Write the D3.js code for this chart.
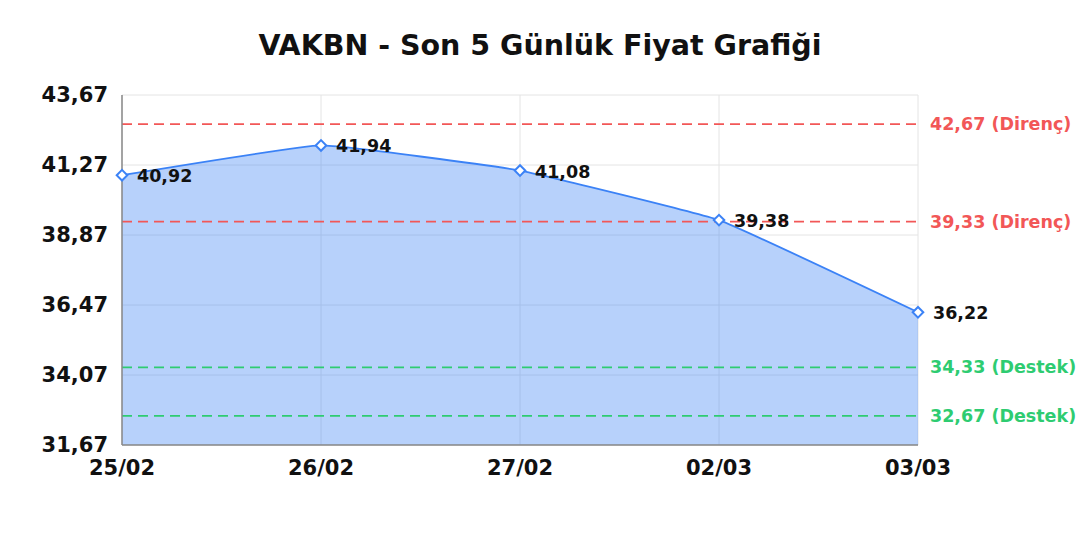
<!DOCTYPE html>
<html>
<head>
<meta charset="utf-8">
<script src="https://cdn.jsdelivr.net/npm/d3@7"></script>
<style>
  body { margin: 0; background: #fff; }
  svg text { font-family: "DejaVu Sans", sans-serif; font-weight: bold; }
</style>
</head>
<body>
<div id="chart"></div>
<script>
// VAKBN son 5 gün kapanış fiyatları
const days = ["25/02", "26/02", "27/02", "02/03", "03/03"];
const prices = [40.92, 41.94, 41.08, 39.38, 36.22];
const yTicks = [31.67, 34.07, 36.47, 38.87, 41.27, 43.67];

// destek / direnç seviyeleri
const levelValues = [42.67, 39.33, 34.33, 32.67];
const levelKinds = ["Direnç", "Direnç", "Destek", "Destek"];

const width = 1080;
const height = 540;
const margin = { top: 95, right: 162, bottom: 95, left: 122 };

const fmt = v => v.toFixed(2).replace('.', ',');
const levelColor = k => k === "Direnç" ? "#f25757" : "#2ecc71";

const svg = d3.select("#chart")
    .append("svg")
    .attr("width", width)
    .attr("height", height);

const x = d3.scalePoint()
    .domain(days)
    .range([margin.left, width - margin.right]);

const y = d3.scaleLinear()
    .domain([yTicks[0], yTicks[yTicks.length - 1]])
    .range([height - margin.bottom, margin.top]);

// Başlık
svg.append("text")
    .attr("x", width / 2)
    .attr("y", 45)
    .attr("text-anchor", "middle")
    .attr("dominant-baseline", "central")
    .attr("font-size", "28.5px")
    .attr("fill", "#111")
    .text("VAKBN - Son 5 Günlük Fiyat Grafiği");

// Izgara
svg.append("g")
    .selectAll("line.h")
    .data(yTicks)
    .enter()
    .append("line")
    .attr("x1", margin.left)
    .attr("x2", width - margin.right)
    .attr("y1", d => y(d))
    .attr("y2", d => y(d))
    .attr("stroke", "#e4e4e4")
    .attr("stroke-width", 1);

svg.append("g")
    .selectAll("line.v")
    .data(days)
    .enter()
    .append("line")
    .attr("x1", d => x(d))
    .attr("x2", d => x(d))
    .attr("y1", margin.top)
    .attr("y2", height - margin.bottom)
    .attr("stroke", "#e4e4e4")
    .attr("stroke-width", 1);

const pts = days.map((d, i) => ({ day: d, value: prices[i] }));

// hafif eğimli çizgi
const curve = d3.curveCardinal.tension(0.7);

const area = d3.area()
    .curve(curve)
    .x(d => x(d.day))
    .y0(y(yTicks[0]))
    .y1(d => y(d.value));

svg.append("path")
    .datum(pts)
    .attr("d", area)
    .attr("fill", "rgba(66,133,244,0.38)");

// Destek / direnç çizgileri
const levels = levelValues.map((v, i) => ({ value: v, kind: levelKinds[i] }));

svg.append("g")
    .selectAll("line")
    .data(levels)
    .enter()
    .append("line")
    .attr("x1", margin.left)
    .attr("x2", width - margin.right)
    .attr("y1", d => y(d.value))
    .attr("y2", d => y(d.value))
    .attr("stroke", d => levelColor(d.kind))
    .attr("stroke-width", 1.6)
    .attr("stroke-dasharray", "10,6");

svg.append("g")
    .selectAll("text")
    .data(levels)
    .enter()
    .append("text")
    .attr("x", width - margin.right + 12)
    .attr("y", d => y(d.value))
    .attr("dominant-baseline", "central")
    .attr("font-size", "17.5px")
    .attr("fill", d => levelColor(d.kind))
    .text(d => `${fmt(d.value)} (${d.kind})`);

const line = d3.line()
    .curve(curve)
    .x(d => x(d.day))
    .y(d => y(d.value));

svg.append("path")
    .datum(pts)
    .attr("d", line)
    .attr("fill", "none")
    .attr("stroke", "#3b82f6")
    .attr("stroke-width", 1.8);

// Eksenler
svg.append("line")
    .attr("x1", margin.left)
    .attr("x2", margin.left)
    .attr("y1", margin.top)
    .attr("y2", height - margin.bottom)
    .attr("stroke", "#888")
    .attr("stroke-width", 1.5);

svg.append("line")
    .attr("x1", margin.left)
    .attr("x2", width - margin.right)
    .attr("y1", height - margin.bottom)
    .attr("y2", height - margin.bottom)
    .attr("stroke", "#888")
    .attr("stroke-width", 1.5);

svg.append("g")
    .selectAll("text")
    .data(yTicks)
    .enter()
    .append("text")
    .attr("x", margin.left - 14)
    .attr("y", d => y(d))
    .attr("text-anchor", "end")
    .attr("dominant-baseline", "central")
    .attr("font-size", "21px")
    .attr("fill", "#111")
    .text(d => fmt(d));

svg.append("g")
    .selectAll("text")
    .data(days)
    .enter()
    .append("text")
    .attr("x", d => x(d))
    .attr("y", height - margin.bottom + 23)
    .attr("text-anchor", "middle")
    .attr("dominant-baseline", "central")
    .attr("font-size", "21px")
    .attr("fill", "#111")
    .text(d => d);

// Noktalar ve etiketler
const diamond = d3.symbol().type(d3.symbolSquare).size(56);

svg.append("g")
    .selectAll("path")
    .data(pts)
    .enter()
    .append("path")
    .attr("d", diamond)
    .attr("transform", d => `translate(${x(d.day)},${y(d.value)}) rotate(45)`)
    .attr("fill", "#fff")
    .attr("stroke", "#3b82f6")
    .attr("stroke-width", 2);

svg.append("g")
    .selectAll("text")
    .data(pts)
    .enter()
    .append("text")
    .attr("x", d => x(d.day) + 15)
    .attr("y", d => y(d.value) + 1)
    .attr("dominant-baseline", "central")
    .attr("font-size", "17.5px")
    .attr("fill", "#111")
    .text(d => fmt(d.value));
</script>
</body>
</html>
